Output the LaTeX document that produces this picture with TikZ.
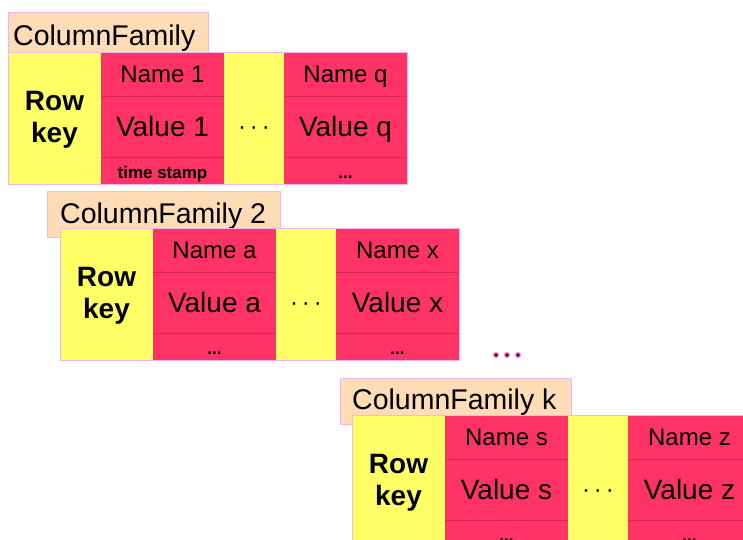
\documentclass[tikz,border=0pt]{standalone}
\usepackage{fontspec}
\setmainfont{Liberation Sans}
\definecolor{cfred}{HTML}{FF3366}
\definecolor{cfyellow}{HTML}{FFFF66}
\definecolor{cfpeach}{HTML}{FDDCB6}
\definecolor{cfpink}{HTML}{F2B6EE}
\definecolor{cfsep}{HTML}{D42A55}
\definecolor{cfdots}{HTML}{4E0C4E}
\tikzset{
  cell/.style={anchor=north west, inner sep=0pt, outer sep=0pt, align=center, text=black},
  keycell/.style={cell, fill=cfyellow, minimum width=93pt, minimum height=132pt},
  keytext/.style={inner sep=0pt, align=center, font=\bfseries\fontsize{28}{32}\selectfont},
  gapcell/.style={cell, fill=cfyellow, minimum width=60pt, minimum height=132pt},
  gaptext/.style={inner sep=0pt, font=\fontsize{24}{26}\selectfont},
  namecell/.style={cell, fill=cfred, minimum width=123pt, minimum height=44pt,
                   text height=20pt, text depth=4pt, font=\fontsize{24}{26}\selectfont},
  valuecell/.style={cell, fill=cfred, minimum width=123pt, minimum height=61pt,
                    text height=22pt, text depth=3pt, font=\fontsize{28}{30}\selectfont},
  extracell/.style={cell, fill=cfred, minimum width=123pt, minimum height=27pt,
                    text height=16pt, text depth=0pt, font=\bfseries\fontsize{17}{19}\selectfont},
  sepline/.style={draw=cfsep, line width=0.6pt},
  outline/.style={draw=cfpink, line width=1pt},
  labelbox/.style={fill=cfpeach, draw=cfpink, line width=0.8pt},
  labeltext/.style={anchor=base west, inner sep=0pt, font=\fontsize{28.5}{30}\selectfont},
  dot/.style={circle, fill=cfdots, draw=magenta!40, line width=1.2pt,
              minimum size=5pt, inner sep=0pt},
}
% One column-family table: #1 name prefix, #2/#3 top-left corner,
% #4-#6 first column texts, #7-#9 last column texts
\newcommand\cftable[9]{%
  \begin{scope}[shift={(#2,#3)}]
    \node[keycell] (#1key) at (0,0) {};
    \node[keytext] (#1keytxt) at (46.5,68) {Row\\key};
    \node[namecell]  (#1na) at (93,0)   {#4};
    \node[valuecell] (#1va) at (93,44)  {#5};
    \node[extracell] (#1ea) at (93,105) {#6};
    \node[gapcell] (#1gap) at (216,0) {};
    \node[gaptext] (#1gaptxt) at (246,79) {·\,·\,·};
    \node[namecell]  (#1nb) at (276,0)   {#7};
    \node[valuecell] (#1vb) at (276,44)  {#8};
    \node[extracell] (#1eb) at (276,105) {#9};
    \draw[sepline] (#1na.south west) -- (#1na.south east);
    \draw[sepline] (#1va.south west) -- (#1va.south east);
    \draw[sepline] (#1nb.south west) -- (#1nb.south east);
    \draw[sepline] (#1vb.south west) -- (#1vb.south east);
    \draw[outline] (#1key.north west) rectangle (#1eb.south east);
  \end{scope}}

\begin{document}
\begin{tikzpicture}[x=1pt, y=-1pt]
  \useasboundingbox (0,0) rectangle (743,539);
  \fill[white] (0,0) rectangle (743,539);
  \clip (0,0) rectangle (743,539);

  % first column family
  \draw[labelbox] (8,12) rectangle (208,52);
  \node[labeltext] (lab1) at (13,45) {ColumnFamily};
  \cftable{a}{8}{52}{Name 1}{Value 1}{time stamp}{Name q}{Value q}{...}

  % second column family
  \draw[labelbox] (47,191) rectangle (280,237);
  \node[labeltext] (lab2) at (60,223) {ColumnFamily 2};
  \cftable{b}{60}{228}{Name a}{Value a}{...}{Name x}{Value x}{...}

  % more families in between
  \node[dot] (d1) at (496,355) {};
  \node[dot] (d2) at (507,355) {};
  \node[dot] (d3) at (518,355) {};

  % last column family
  \draw[labelbox] (340,378) rectangle (571,424);
  \node[labeltext] (lab3) at (352,409) {ColumnFamily k};
  \cftable{c}{352}{415}{Name s}{Value s}{...}{Name z}{Value z}{...}
\end{tikzpicture}
\end{document}
